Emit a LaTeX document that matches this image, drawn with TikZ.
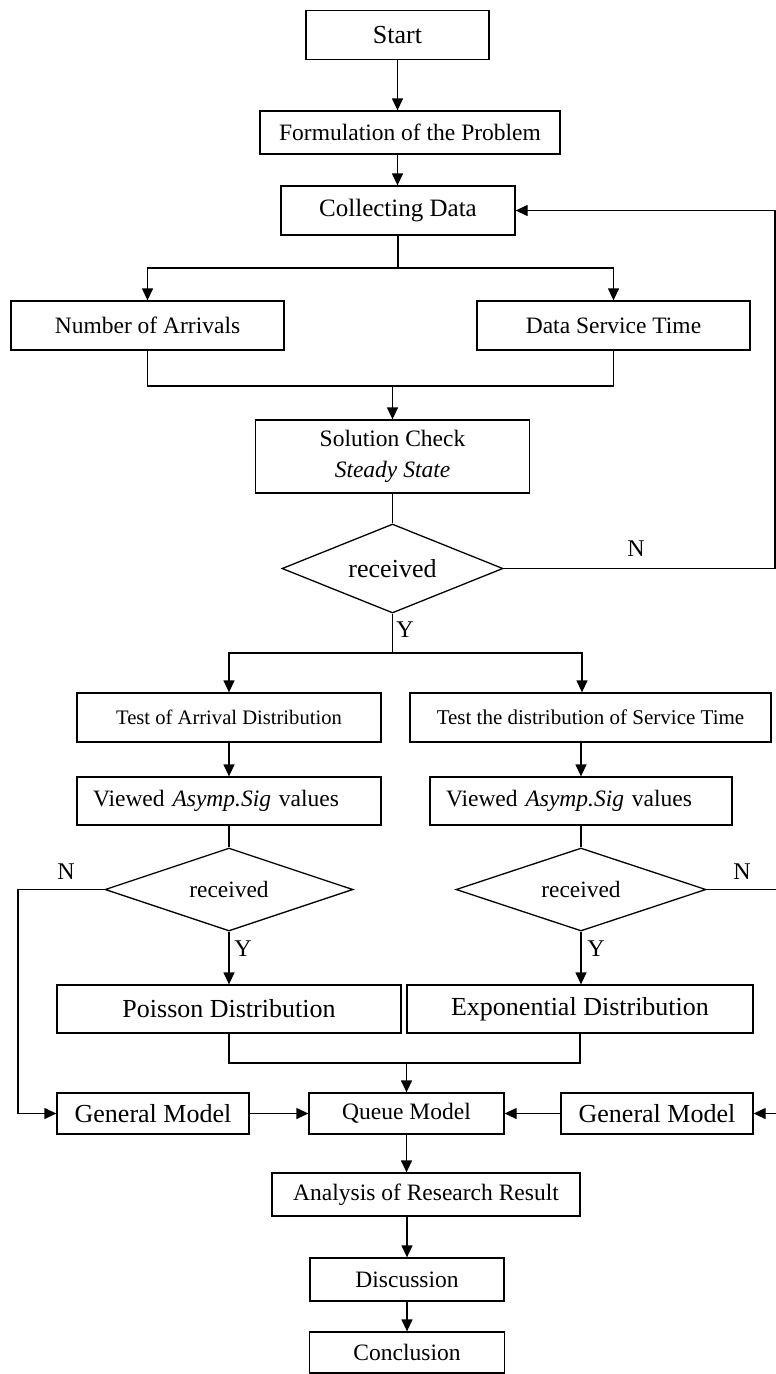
\documentclass[tikz,border=0pt]{standalone}
\usepackage{fontspec}
\setmainfont{Liberation Serif}
\usetikzlibrary{shapes.geometric,arrows.meta}
\newcommand{\fsz}[1]{\fontsize{#1}{31}\selectfont}
\tikzset{
  box/.style={draw, rectangle, line width=1.3pt, inner sep=0pt, align=center},
  dia/.style={draw, diamond, line width=1.3pt, inner sep=0pt},
  arr/.style={-{Triangle[length=12pt,width=11pt]}, line width=1.3pt},
  ln/.style={line width=1.3pt},
  lab/.style={inner sep=0pt, font=\fsz{24}}
}
\begin{document}
\begin{tikzpicture}[x=1pt,y=-1pt]
\useasboundingbox (0,0) rectangle (776,1374);
% nodes
\node[box, minimum width=183pt, minimum height=49pt, font=\fsz{26}] (start) at (397.5,35) {Start};
\node[box, minimum width=300pt, minimum height=43pt, font=\fsz{23.5}] (form) at (410,132.5) {Formulation of the Problem};
\node[box, minimum width=234pt, minimum height=49pt, font=\fsz{25}] (collect) at (398,210.5) {Collecting Data};
\node[box, minimum width=273pt, minimum height=49pt, font=\fsz{23.5}] (arrv) at (147.5,325.5) {Number of Arrivals};
\node[box, minimum width=273pt, minimum height=49pt, font=\fsz{23.5}] (serv) at (613.5,325.5) {Data Service Time};
\node[box, minimum width=274pt, minimum height=73pt, font=\fsz{23.5}] (sol) at (392.5,456.5) {Solution Check\\\textit{Steady State}};
\node[dia, shape aspect=2.5, minimum width=221pt, minimum height=89pt, font=\fsz{26}] (d1) at (392.5,568.5) {received};
\node[box, minimum width=304pt, minimum height=49pt, font=\fsz{20.6}] (testA) at (229,717.5) {Test of Arrival Distribution};
\node[box, minimum width=361pt, minimum height=49pt, font=\fsz{21}] (testS) at (590.5,717.5) {Test the distribution of Service Time};
\node[box, minimum height=48pt, inner xsep=16pt, text width=272pt, align=left, font=\fsz{23.5}] (viewA) at (229,801) {Viewed \textit{Asymp.Sig} values};
\node[box, minimum height=48pt, inner xsep=16pt, text width=270pt, align=left, font=\fsz{23.5}] (viewS) at (581,801) {Viewed \textit{Asymp.Sig} values};
\node[dia, shape aspect=3, minimum width=248pt, minimum height=83pt, font=\fsz{23.4}] (d2) at (229,889.5) {received};
\node[dia, shape aspect=3, minimum width=250pt, minimum height=83pt, font=\fsz{23.4}] (d3) at (581,889.5) {received};
\node[box, minimum width=344pt, minimum height=48pt, font=\fsz{26}] (pois) at (229,1009) {Poisson Distribution};
\node[box, minimum width=346pt, minimum height=48pt, font=\fsz{26}] (expo) at (580,1009) {Exponential Distribution};
\node[box, minimum width=192pt, minimum height=41pt, font=\fsz{26}] (gml) at (153,1113.5) {General Model};
\node[box, minimum width=195pt, minimum height=41pt, font=\fsz{23.5}] (queue) at (406.5,1113.5) {Queue Model};
\node[box, minimum width=192pt, minimum height=41pt, font=\fsz{26}] (gmr) at (657,1113.5) {General Model};
\node[box, minimum width=308pt, minimum height=43pt, font=\fsz{23.5}] (anal) at (426,1194.5) {Analysis of Research Result};
\node[box, minimum width=194pt, minimum height=43pt, font=\fsz{23.5}] (disc) at (407,1279.5) {Discussion};
\node[box, minimum width=195pt, minimum height=41pt, font=\fsz{23.5}] (conc) at (407,1352.5) {Conclusion};
% labels
\node[lab] (n1) at (636,549) {N};
\node[lab] (y1) at (405,630) {Y};
\node[lab] (n2) at (66,872) {N};
\node[lab] (n3) at (742,872) {N};
\node[lab] (y2) at (243,949) {Y};
\node[lab] (y3) at (596,949) {Y};
% helper coordinates
\coordinate (sp1) at (398,268);
\coordinate (m1) at (392.5,386);
\coordinate (fb1) at (775,568.5);
\coordinate (fb2) at (775,210.5);
\coordinate (sp2) at (392.5,653);
\coordinate (sp2r) at (582,653);
\coordinate (l1) at (18,889.5);
\coordinate (r1) at (778,889.5);
\coordinate (m2) at (406.5,1063);
% connectors
\draw[arr] (start) -- (start.south |- form.north);
\draw[arr] (start.south |- form.south) -- (start.south |- collect.north);
\draw[ln] (collect.south) -- (sp1);
\draw[arr] (sp1) -| (arrv.north);
\draw[arr] (sp1) -| (serv.north);
\draw[ln] (arrv.south) |- (m1) -| (serv.south);
\draw[arr] (m1) -- (sol.north);
\draw[ln] (sol.south) -- (d1.north);
\draw[arr] (d1.east) -- (fb1) -- (fb2) -- (collect.east);
\draw[ln] (d1.south) -- (sp2);
\draw[arr] (sp2) -| (testA.north);
\draw[arr] (sp2) -- (sp2r) -- (sp2r |- testS.north);
\draw[arr] (testA) -- (viewA);
\draw[arr] (viewS.north |- testS.south) -- (viewS.north);
\draw[ln] (viewA.south) -- (d2.north);
\draw[ln] (viewS.south) -- (d3.north);
\draw[arr] (d2.south) -- (pois.north);
\draw[arr] (d3.south) -- (d3.south |- expo.north);
\draw[arr] (d2.west) -- (l1) |- (gml.west);
\draw[arr] (d3.east) -- (r1) |- (gmr.east);
\draw[ln] (pois.south) |- (m2) -| (expo.south);
\draw[arr] (m2) -- (queue.north);
\draw[arr] (gml) -- (queue);
\draw[arr] (gmr) -- (queue);
\draw[arr] (queue.south) -- (queue.south |- anal.north);
\draw[arr] (disc.north |- anal.south) -- (disc.north);
\draw[arr] (disc) -- (conc);
\end{tikzpicture}
\end{document}
